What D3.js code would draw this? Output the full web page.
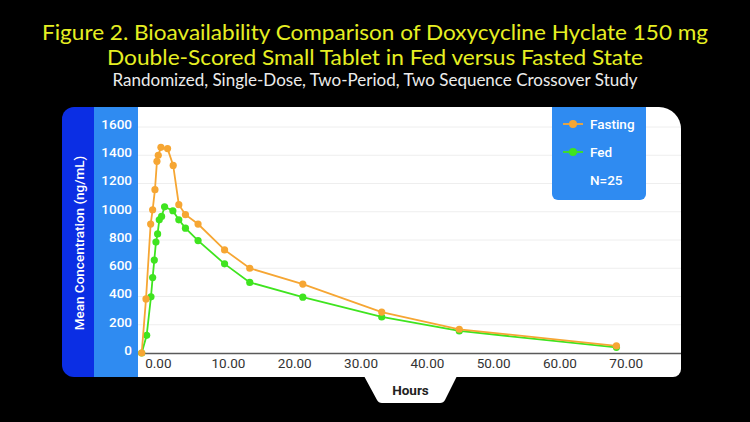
<!DOCTYPE html>
<html>
<head>
<meta charset="utf-8">
<script src="https://cdn.jsdelivr.net/npm/d3@7"></script>
<style>
  body { margin: 0; background: #000; }
  svg { display: block; }
</style>
</head>
<body>
<div id="chart"></div>
<script>
const svgWidth = 750,
      svgHeight = 422;

// data
let fastingHours = [0, 0.65, 1.35, 1.65, 2.0, 2.3, 2.5, 2.9, 3.9, 4.75, 5.6, 6.6, 8.5, 12.5, 16.3, 24.3, 36.2, 47.9, 71.6];
let fastingConc  = [0, 383, 913, 1014, 1156, 1357, 1400, 1456, 1447, 1328, 1050, 979, 913, 730, 600, 488, 290, 168, 50];
let fedHours = [0, 0.75, 1.4, 1.65, 1.9, 2.15, 2.4, 2.65, 3.0, 3.45, 4.7, 5.6, 6.6, 8.5, 12.5, 16.3, 24.3, 36.2, 47.9, 71.6];
let fedConc  = [0, 125, 398, 534, 658, 785, 843, 943, 967, 1035, 1007, 943, 884, 796, 631, 500, 395, 255, 156, 40];
let yTicks = [0, 200, 400, 600, 800, 1000, 1200, 1400, 1600];
let xTicks = [0, 10, 20, 30, 40, 50, 60, 70];
let seriesNames = ["Fasting", "Fed"];
let seriesColors = ["#f6a633", "#3fe41f"];

let scaleX = d3.scaleLinear().domain([0, 80]).range([141.7, 672.1]),
    scaleY = d3.scaleLinear().domain([0, 1600]).range([353, 127]);

let svg = d3.select("#chart")
  .append("svg")
  .attr("width", svgWidth)
  .attr("height", svgHeight)
  .style("background", "#000");

// titles
let titles = [
  {text: "Figure 2. Bioavailability Comparison of Doxycycline Hyclate 150 mg", y: 40, size: 20.5, len: 666, fill: "#e6ef22"},
  {text: "Double-Scored Small Tablet in Fed versus Fasted State", y: 64.5, size: 20.5, len: 536, fill: "#e6ef22"},
  {text: "Randomized, Single-Dose, Two-Period, Two Sequence Crossover Study", y: 86, size: 16.5, len: 525, fill: "#ececec"}
];
svg.selectAll("text.title")
  .data(titles)
  .enter()
  .append("text")
  .attr("class", "title")
  .attr("x", svgWidth / 2)
  .attr("y", d => d.y)
  .attr("text-anchor", "middle")
  .attr("textLength", d => d.len)
  .attr("lengthAdjust", "spacingAndGlyphs")
  .style("font-family", "Lato, 'Open Sans', sans-serif")
  .style("font-size", d => d.size + "px")
  .style("fill", d => d.fill)
  .text(d => d.text);

// panel
svg.append("path")
  .attr("d", "M74,107 H96 V377 H74 A12,12 0 0 1 62,365 V119 A12,12 0 0 1 74,107 Z")
  .attr("fill", "#0b2ee4");
svg.append("rect")
  .attr("x", 94).attr("y", 107)
  .attr("width", 44).attr("height", 270)
  .attr("fill", "#2f8bf1");
svg.append("path")
  .attr("d", "M138,107 H659 A22,22 0 0 1 681,129 V369 A8,8 0 0 1 673,377 H138 Z")
  .attr("fill", "#fff");
svg.append("path")
  .attr("d", "M364,376 H457 L445,400 Q443.5,403 440,403 H382 Q378.5,403 377,400 Z")
  .attr("fill", "#fff");

// grid
svg.append("g")
  .selectAll("line")
  .data(yTicks.slice(1))
  .enter()
  .append("line")
  .attr("x1", 138)
  .attr("x2", 681)
  .attr("y1", d => scaleY(d))
  .attr("y2", d => scaleY(d))
  .attr("stroke", "#eeeeee")
  .attr("stroke-width", 1);

// y axis
let yAxis = svg.append("g")
  .attr("transform", "translate(132,-3)")
  .call(d3.axisLeft(scaleY).tickValues(yTicks).tickSize(0).tickPadding(0).tickFormat(d3.format("d")));
yAxis.select(".domain").remove();
yAxis.selectAll("text")
  .style("font-family", "Roboto, sans-serif")
  .style("font-size", "13.5px")
  .style("font-weight", "500")
  .style("fill", "#fff");

svg.append("text")
  .attr("transform", "translate(84," + 243 + ")rotate(-90)")
  .attr("text-anchor", "middle")
  .style("font-family", "Roboto, sans-serif")
  .style("font-size", "13.5px")
  .style("font-weight", "500")
  .style("fill", "#fff")
  .text("Mean Concentration (ng/mL)");

// x axis
svg.append("line")
  .attr("x1", 138).attr("x2", 681)
  .attr("y1", 353.5).attr("y2", 353.5)
  .attr("stroke", "#5a5a5a")
  .attr("stroke-width", 1.5);

let xAxis = svg.append("g")
  .attr("transform", "translate(3,358)")
  .call(d3.axisBottom(scaleX).tickValues(xTicks).tickSize(0).tickPadding(0).tickFormat(d3.format(".2f")));
xAxis.select(".domain").remove();
xAxis.selectAll("text")
  .attr("text-anchor", "start")
  .style("font-family", "Roboto, sans-serif")
  .style("font-size", "13.5px")
  .style("fill", "#333");

svg.append("text")
  .attr("x", 410.5)
  .attr("y", 395)
  .attr("text-anchor", "middle")
  .style("font-family", "Roboto, sans-serif")
  .style("font-size", "13.5px")
  .style("font-weight", "bold")
  .style("fill", "#222")
  .text("Hours");

// series: fed underneath, fasting on top
let series = [
  {name: seriesNames[1], color: seriesColors[1], pts: fedHours.map((h, i) => [h, fedConc[i]])},
  {name: seriesNames[0], color: seriesColors[0], pts: fastingHours.map((h, i) => [h, fastingConc[i]])}
];

let line = d3.line()
  .x(d => scaleX(d[0]))
  .y(d => scaleY(d[1]));

series.forEach(function(s) {
  let g = svg.append("g");
  g.append("path")
    .attr("d", line(s.pts))
    .attr("fill", "none")
    .attr("stroke", s.color)
    .attr("stroke-width", 1.8);
  g.selectAll("circle")
    .data(s.pts)
    .enter()
    .append("circle")
    .attr("cx", d => scaleX(d[0]))
    .attr("cy", d => scaleY(d[1]))
    .attr("r", 3.6)
    .attr("fill", s.color);
});

// legend
svg.append("path")
  .attr("d", "M552,107 H646 V194 A6,6 0 0 1 640,200 H558 A6,6 0 0 1 552,194 Z")
  .attr("fill", "#2f8bf1");

let legend = svg.append("g")
  .selectAll("g")
  .data(seriesNames)
  .enter()
  .append("g")
  .attr("transform", (d, i) => "translate(0," + (124 + i * 28) + ")");
legend.append("line")
  .attr("x1", 563).attr("x2", 583)
  .attr("stroke", (d, i) => seriesColors[i])
  .attr("stroke-width", 1.8);
legend.append("circle")
  .attr("cx", 573)
  .attr("r", 4)
  .attr("fill", (d, i) => seriesColors[i]);
legend.append("text")
  .attr("x", 590)
  .attr("dy", "0.35em")
  .style("font-family", "Roboto, sans-serif")
  .style("font-size", "13.5px")
  .style("font-weight", "500")
  .style("fill", "#fff")
  .text(d => d);

svg.append("text")
  .attr("x", 590)
  .attr("y", 180)
  .attr("dy", "0.35em")
  .style("font-family", "Roboto, sans-serif")
  .style("font-size", "13.5px")
  .style("font-weight", "500")
  .style("fill", "#fff")
  .text("N=25");
</script>
</body>
</html>
